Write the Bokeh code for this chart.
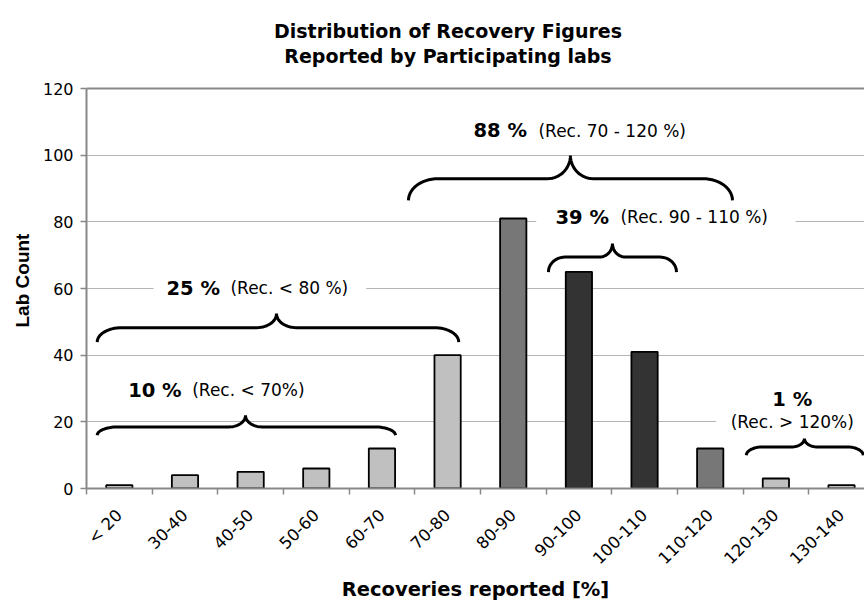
import numpy as np
from math import pi
from bokeh.plotting import figure
from bokeh.models import Range1d, FixedTicker, Label, Span, Title
from bokeh.embed import file_html
from bokeh.resources import INLINE

# ---- data ----
categories = ["< 20", "30-40", "40-50", "50-60", "60-70", "70-80", "80-90",
              "90-100", "100-110", "110-120", "120-130", "130-140"]
lab_counts = [1, 4, 5, 6, 12, 40, 81, 65, 41, 12, 3, 1]
bar_colors = ["#c0c0c0"] * 6 + ["#777777", "#333333", "#333333", "#777777", "#c0c0c0", "#c0c0c0"]
y_ticks = [0, 20, 40, 60, 80, 100, 120]

# brace annotations (category-index units on x, lab count on y)
brace_x0 = [0.163, 0.163, 4.904, 7.036, 10.05]
brace_x1 = [4.706, 5.67, 9.839, 8.986, 11.83]
brace_xtip = [2.422, 2.894, 7.371, 8.011, 10.935]
brace_yend = [15.98, 43.94, 86.42, 64.93, 9.98]
brace_yflat = [18.47, 48.26, 92.93, 69.42, 12.47]
brace_ytip = [21.97, 52.46, 99.91, 73.44, 14.99]
brace_rend = [0.32, 0.38, 0.45, 0.25, 0.25]
brace_rtip = [0.25, 0.3, 0.35, 0.2, 0.2]

pct_texts = ["10 %", "25 %", "88 %", "39 %"]
pct_x = [0.635, 1.218, 5.894, 7.143]
rec_texts = ["(Rec. < 70%)", "(Rec. < 80 %)", "(Rec. 70 - 120 %)", "(Rec. 90 - 110 %)"]
rec_x = [1.61, 2.193, 6.884, 8.133]
label_y = [29.47, 60.04, 107.4, 81.4]

title_lines = ["Distribution of Recovery Figures", "Reported by Participating labs"]

FONT = "DejaVu Sans"

# frame spans the full height above the x axis; the space above 120 holds the title
p = figure(width=864, height=603, output_backend="svg", toolbar_location=None,
           x_range=Range1d(0, 11.85), y_range=Range1d(0, 146.4),
           min_border_left=86, min_border_right=0, min_border_top=0, min_border_bottom=115)
p.outline_line_color = None
p.background_fill_color = "white"

for line, ty in zip(title_lines, [137.4, 129.9]):
    p.add_layout(Label(x=5.506, y=ty, text=line, text_font=FONT, text_font_size="19px",
                       text_font_style="bold", text_align="center",
                       text_baseline="alphabetic", text_color="black"))

# grid
p.xgrid.visible = False
p.ygrid.ticker = FixedTicker(ticks=[20, 40, 60, 80, 100])
p.ygrid.grid_line_color = "#b4b4b4"
p.ygrid.grid_line_width = 1
p.add_layout(Span(location=120, dimension="width", line_color="#888888", line_width=2))

# white boxes behind labels that break grid lines
p.quad(left=[1.02, 6.85, 9.59], right=[4.26, 10.8, 12.0],
       bottom=[57, 78, 17], top=[63, 84.5, 23], fill_color="white", line_color=None)

centers = [i + 0.5 for i in range(len(categories))]
p.vbar(x=centers, top=lab_counts, width=0.4, fill_color=bar_colors,
       line_color="black", line_width=1.8)

# braces
bx, by = [], []
t = np.linspace(0, pi / 2, 16)
for x0, x1, xt, ye, yf, yt, re, rt in zip(brace_x0, brace_x1, brace_xtip, brace_yend,
                                          brace_yflat, brace_ytip, brace_rend, brace_rtip):
    xs = list(x0 + re - re * np.cos(t)) + list(xt - rt + rt * np.sin(t)) \
        + list(xt + rt - rt * np.cos(t)) + list(x1 - re + re * np.sin(t))
    ys = list(ye + (yf - ye) * np.sin(t)) + list(yt - (yt - yf) * np.cos(t)) \
        + list(yt - (yt - yf) * np.sin(t)) + list(ye + (yf - ye) * np.cos(t))
    bx.append(xs)
    by.append(ys)
p.multi_line(xs=bx, ys=by, line_color="black", line_width=3)

for tx, x, y in zip(pct_texts, pct_x, label_y):
    p.add_layout(Label(x=x, y=y, text=tx, text_font=FONT, text_font_size="19.5px",
                       text_font_style="bold", text_baseline="middle", text_align="left",
                       text_color="black"))
for tx, x, y in zip(rec_texts, rec_x, label_y):
    p.add_layout(Label(x=x, y=y, text=tx, text_font=FONT, text_font_size="17px",
                       text_baseline="middle", text_align="left", text_color="black"))
p.add_layout(Label(x=10.75, y=26.8, text="1 %", text_font=FONT, text_font_size="19.5px",
                   text_font_style="bold", text_baseline="middle", text_align="center",
                   text_color="black"))
p.add_layout(Label(x=10.75, y=20.0, text="(Rec. > 120%)", text_font=FONT, text_font_size="17px",
                   text_baseline="middle", text_align="center", text_color="black"))

# x axis
xa = p.xaxis[0]
xa.ticker = FixedTicker(ticks=centers, minor_ticks=list(range(len(categories) + 1)))
xa.major_label_overrides = {c: lab for c, lab in zip(centers, categories)}
xa.major_tick_line_color = None
xa.major_tick_out = 0
xa.minor_tick_line_color = "#888888"
xa.minor_tick_line_width = 1.5
xa.minor_tick_out = 6
xa.minor_tick_in = 0
xa.axis_line_color = "#888888"
xa.axis_line_width = 2
xa.major_label_orientation = pi / 4
xa.major_label_standoff = 18
xa.major_label_text_font = FONT
xa.major_label_text_font_size = "16.5px"
xa.major_label_text_color = "black"
xa.axis_label = "Recoveries reported [%]"
xa.axis_label_text_font = FONT
xa.axis_label_text_font_size = "19.5px"
xa.axis_label_text_font_style = "bold"
xa.axis_label_text_color = "black"
xa.axis_label_standoff = 0

# y axis (line and ticks limited to 0-120)
ya = p.yaxis[0]
ya.bounds = (0, 120)
ya.ticker = FixedTicker(ticks=y_ticks)
ya.major_tick_line_color = "#888888"
ya.major_tick_line_width = 1.5
ya.major_tick_out = 6
ya.major_tick_in = 0
ya.minor_tick_line_color = None
ya.axis_line_color = "#888888"
ya.axis_line_width = 2
ya.major_label_standoff = 7
ya.major_label_text_font = FONT
ya.major_label_text_font_size = "16px"
ya.major_label_text_color = "black"

# y axis title, positioned along the 0-120 span
p.add_layout(Title(text="Lab Count", align="left", offset=161, standoff=13,
                   text_font="Liberation Sans", text_font_size="19px",
                   text_font_style="bold", text_color="black"), "left")

open("out.html", "w").write(file_html(p, INLINE))
